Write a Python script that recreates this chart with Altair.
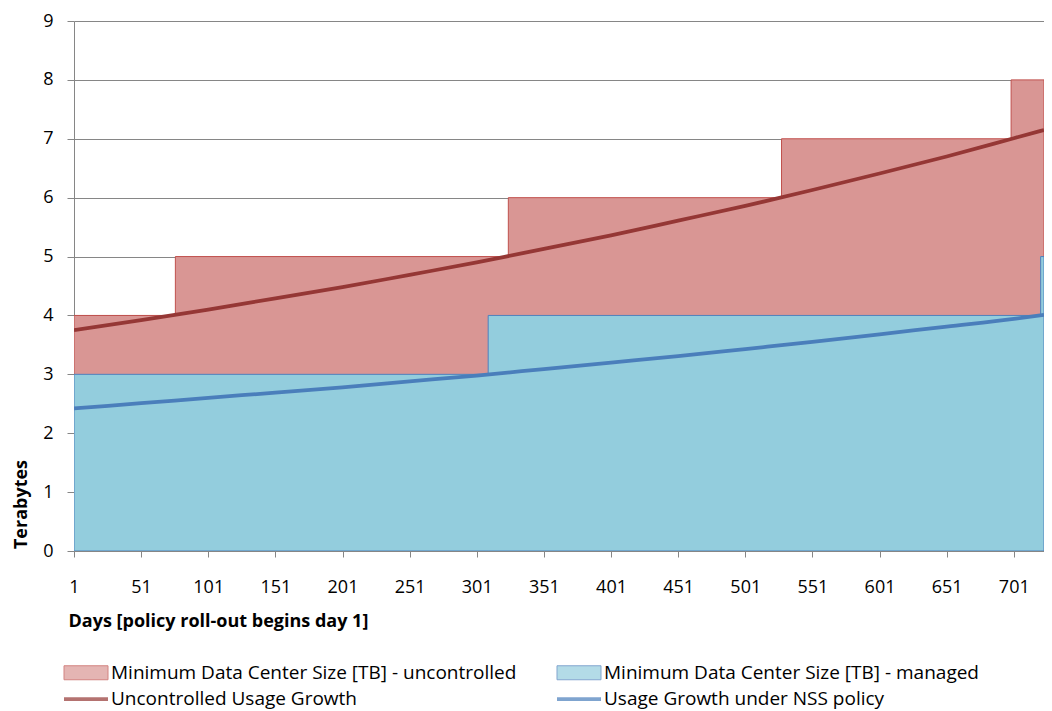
import altair as alt
import pandas as pd

# ---- series names (legend order is column-major: col 1 = uncontrolled, col 2 = managed)
S_UNC = "Minimum Data Center Size [TB] - uncontrolled"
S_MAN = "Minimum Data Center Size [TB] - managed"
L_UNC = "Uncontrolled Usage Growth"
L_NSS = "Usage Growth under NSS policy"
series_order = [S_UNC, L_UNC, S_MAN, L_NSS]

# ---- step series (day where a new size level starts, size in TB)
uncontrolled_step_days = [1, 76.5, 324.5, 528, 699, 723.5]
uncontrolled_step_tb = [4, 5, 6, 7, 8, 8]
managed_step_days = [1, 309.5, 721, 723.5]
managed_step_tb = [3, 4, 5, 5]

# ---- usage growth curves read at the axis ticks
curve_days = [1, 51, 101, 151, 201, 251, 301, 351, 401, 451, 501, 551, 601, 651, 701, 723.5]
uncontrolled_growth_tb = [3.75, 3.92, 4.10, 4.29, 4.48, 4.69, 4.90, 5.13, 5.36, 5.61,
                          5.86, 6.13, 6.41, 6.70, 7.01, 7.15]
nss_growth_tb = [2.42, 2.51, 2.60, 2.69, 2.78, 2.88, 2.98, 3.09, 3.20, 3.31,
                 3.43, 3.55, 3.68, 3.81, 3.94, 4.01]

# ---- axis ticks
x_tick_days = [1, 51, 101, 151, 201, 251, 301, 351, 401, 451, 501, 551, 601, 651, 701]
y_ticks = [0, 1, 2, 3, 4, 5, 6, 7, 8, 9]
x_domain = [1, 723.5]
y_domain = [0, 9]

# ---- styles (same order as series_order)
fill_range = ["#D99694", "transparent", "#93CDDD", "transparent"]
stroke_range = ["#C0504D", "#953735", "#4F81BD", "#4A7EBB"]
width_range = [1, 3.75, 1, 3.75]
RECT = "M-1,-0.7H3.4V0.7H-1Z"
LINE = "M-1,0H3.4"
shape_range = [RECT, LINE, RECT, LINE]

FONT = "Open Sans"
GRID = "#868686"

unc_step = pd.DataFrame({"day": uncontrolled_step_days, "tb": uncontrolled_step_tb, "series": S_UNC})
man_step = pd.DataFrame({"day": managed_step_days, "tb": managed_step_tb, "series": S_MAN})
unc_line = pd.DataFrame({"day": curve_days, "tb": uncontrolled_growth_tb, "series": L_UNC})
nss_line = pd.DataFrame({"day": curve_days, "tb": nss_growth_tb, "series": L_NSS})

legend = alt.Legend(
    title=None, orient="none", legendX=-12, legendY=641, columns=2,
    columnPadding=32, rowPadding=4, symbolSize=400, labelOffset=25,
    labelFont=FONT, labelFontSize=19, labelColor="#000000", labelLimit=800,
    padding=0,
)

x_enc = alt.X(
    "day:Q",
    scale=alt.Scale(domain=x_domain, nice=False, zero=False),
    axis=alt.Axis(
        values=x_tick_days, title="Days [policy roll-out begins day 1]", grid=False,
        tickSize=6, tickColor=GRID, domainColor=GRID, labelFont=FONT, labelFontSize=18,
        labelColor="#000000", labelPadding=21, labelFlush=False, labelOverlap=False,
        titleFont=FONT, titleFontSize=18, titleFontWeight="bold", titleColor="#000000",
        titleX=-6, titleY=70, titleAlign="left", titleBaseline="middle", titleAnchor="start",
    ),
)
y_enc = alt.Y(
    "tb:Q",
    scale=alt.Scale(domain=y_domain, nice=False, zero=True),
    axis=alt.Axis(
        values=y_ticks, title="Terabytes", grid=True, gridColor=GRID, gridWidth=1,
        tickSize=7, tickColor=GRID, domainColor=GRID, labelFont=FONT, labelFontSize=18,
        labelColor="#000000", labelPadding=14, labelFlush=False,
        titleFont=FONT, titleFontSize=18, titleFontWeight="bold", titleColor="#000000",
        titleX=-53, titleY=483, titleAlign="center", titleBaseline="middle", titleAngle=270,
    ),
)
fill_enc = alt.Fill("series:N", scale=alt.Scale(domain=series_order, range=fill_range), legend=legend)
stroke_enc = alt.Stroke("series:N", scale=alt.Scale(domain=series_order, range=stroke_range), legend=legend)
width_enc = alt.StrokeWidth("series:N", scale=alt.Scale(type="ordinal", domain=series_order, range=width_range), legend=legend)
shape_enc = alt.Shape("series:N", scale=alt.Scale(domain=series_order, range=shape_range), legend=legend)

area_unc = alt.Chart(unc_step).mark_area(interpolate="step-after", clip=True, fillOpacity=1).encode(
    x=x_enc, y=y_enc, fill=fill_enc, stroke=stroke_enc, strokeWidth=width_enc)
area_man = alt.Chart(man_step).mark_area(interpolate="step-after", clip=True, fillOpacity=1).encode(
    x=x_enc, y=y_enc, fill=fill_enc, stroke=stroke_enc, strokeWidth=width_enc)
line_unc = alt.Chart(unc_line).mark_line(interpolate="monotone", clip=True).encode(
    x=x_enc, y=y_enc, stroke=stroke_enc, strokeWidth=width_enc)
line_nss = alt.Chart(nss_line).mark_line(interpolate="monotone", clip=True).encode(
    x=x_enc, y=y_enc, stroke=stroke_enc, strokeWidth=width_enc)
legend_keys = alt.Chart(nss_line).mark_point().transform_filter("false").encode(
    x=x_enc, y=y_enc, shape=shape_enc, fill=fill_enc, stroke=stroke_enc, strokeWidth=width_enc)

chart = alt.layer(area_unc, area_man, line_unc, line_nss, legend_keys).properties(
    width=970, height=530,
    padding={"left": 66, "top": 13, "right": 0, "bottom": 160},
    autosize=alt.AutoSizeParams(type="none"),
).configure(font=FONT).configure_view(stroke=None)

chart.save("out.html", embed_options={"renderer": "svg", "actions": False})
